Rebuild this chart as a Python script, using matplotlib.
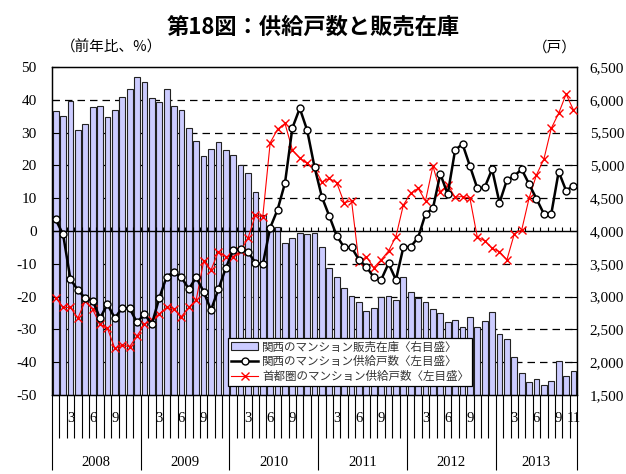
import matplotlib

matplotlib.use("Agg")
import matplotlib.pyplot as plt
import numpy as np

plt.rcParams["font.family"] = ["Noto Sans CJK JP", "DejaVu Sans"]

# ---- data (2008/01 - 2013/11, monthly) ----
years = ["2008", "2009", "2010", "2011", "2012", "2013"]
n_months = 71

# 関西のマンション販売在庫 (戸, right axis)
inventory = [5830, 5760, 5980, 5540, 5630, 5890, 5900, 5740, 5840, 6040, 6170, 6350,
             6270, 6020, 5970, 6170, 5900, 5840, 5570, 5370, 5150, 5250, 5350, 5240,
             5160, 5000, 4880, 4590, 4240, 4065, 4055, 3810, 3890, 3965, 3955, 3975,
             3750, 3440, 3305, 3125, 3010, 2925, 2780, 2820, 2990, 3015, 2950, 3305,
             3075, 2975, 2925, 2810, 2745, 2605, 2650, 2540, 2695, 2540, 2635, 2760,
             2430, 2360, 2085, 1840, 1705, 1745, 1655, 1720, 2025, 1790, 1865]

# 関西のマンション供給戸数 (前年比 %, left axis)
kansai = [3.5, -1.0, -14.7, -18.0, -20.5, -21.2, -26.6, -22.3, -26.6, -23.4, -23.6, -27.9,
          -25.3, -28.4, -20.5, -13.9, -12.5, -14.1, -17.7, -14.1, -18.5, -24.1, -17.8, -11.3,
          -5.8, -5.6, -6.3, -9.7, -10.2, 1.0, 6.5, 14.6, 31.4, 37.4, 30.7, 19.4,
          10.3, 4.5, -1.5, -5.0, -5.0, -8.8, -10.9, -14.1, -14.9, -9.9, -14.9, -5.0,
          -4.8, -2.0, 5.2, 6.9, 17.4, 11.2, 24.7, 26.5, 19.8, 13.0, 13.3, 18.8,
          8.6, 15.5, 16.8, 18.8, 14.3, 9.8, 5.2, 5.2, 18.1, 12.3, 13.8]

# 首都圏のマンション供給戸数 (前年比 %, left axis)
shutoken = [-20.3, -23.3, -23.3, -26.6, -21.3, -23.9, -28.5, -29.7, -35.8, -34.8, -35.3, -32.0,
            -28.5, -27.1, -25.3, -23.3, -23.9, -26.1, -23.3, -21.0, -9.3, -11.9, -6.3, -7.8,
            -7.8, -6.1, -2.2, 4.8, 4.4, 26.9, 31.0, 32.8, 24.7, 22.2, 20.6, 19.1,
            15.0, 16.0, 14.7, 8.6, 9.2, -9.6, -7.8, -11.2, -8.8, -6.1, -1.7, 7.9,
            11.5, 13.0, 9.2, 19.8, 12.0, 14.0, 10.3, 10.5, 10.0, -1.9, -3.0, -5.3,
            -6.3, -8.8, -0.9, 0.3, 10.0, 17.1, 21.9, 31.3, 35.9, 41.7, 36.9]

left_ticks = list(range(-50, 51, 10))
right_ticks = list(range(1500, 6501, 500))

labels = ["関西のマンション販売在庫〈右目盛〉",
          "関西のマンション供給戸数〈左目盛〉",
          "首都圏のマンション供給戸数〈左目盛〉"]

SERIF = "Liberation Serif"
x = np.arange(n_months)

fig = plt.figure(figsize=(6.26, 4.74), dpi=100)
ax = fig.add_axes([0.083, 0.1667, 0.839, 0.692])
ax2 = ax.twinx()
ax.set_zorder(ax2.get_zorder() + 1)
ax.patch.set_visible(False)

# bars (right axis), dashed grid sits behind them
for v in right_ticks[1:-1]:
    if v != 4000:
        ax2.axhline(v, color="black", lw=0.9, ls=(0, (6, 4)), zorder=0.5)
bars = ax2.bar(x, inventory, width=0.78, color="#ccccff", edgecolor="#222222",
               lw=0.8, zorder=2)
ax2.set_ylim(1500, 6500)
ax2.set_yticks(right_ticks)
ax2.set_yticklabels([f"{v:,}" for v in right_ticks], fontfamily=SERIF, fontsize=11)
ax2.tick_params(axis="y", direction="in", length=5, width=0.8, pad=9)

# lines (left axis)
ax.axhline(0, color="black", lw=1.0, zorder=3)
bounds = np.arange(n_months + 1) - 0.5
ax.vlines(bounds, 0, 1.3, color="black", lw=0.8, zorder=3)
l_red, = ax.plot(x, shutoken, color="red", lw=0.8, marker="x", ms=5.5, mew=1.0, zorder=4)
l_blk, = ax.plot(x, kansai, color="black", lw=1.8, marker="o", ms=5,
                 mfc="white", mec="black", mew=1.0, zorder=5)
ax.set_ylim(-50, 50)
ax.set_yticks(left_ticks)
ax.set_yticklabels([str(v) for v in left_ticks], fontfamily=SERIF, fontsize=11)
ax.tick_params(axis="y", direction="in", length=5, width=0.8, pad=11)

ax.set_xlim(-0.5, n_months - 0.5)
year_bounds = [-0.5, 11.5, 23.5, 35.5, 47.5, 59.5, n_months - 0.5]
ax.set_xticks(year_bounds)
ax.set_xticks(bounds, minor=True)
ax.set_xticklabels([])
ax.tick_params(axis="x", which="major", direction="out", length=54, width=0.8)
ax.tick_params(axis="x", which="minor", direction="out", length=31, width=0.8)

tr = ax.get_xaxis_transform()
for i in range(n_months):
    m = i % 12 + 1
    if m in (3, 6, 9) or i == n_months - 1:
        ax.text(i, -0.072, str(m), transform=tr, ha="center", va="center",
                fontfamily=SERIF, fontsize=10.5)
for k, yr in enumerate(years):
    c = (year_bounds[k] + year_bounds[k + 1]) / 2
    ax.text(c, -0.205, yr, transform=tr, ha="center", va="center",
            fontfamily=SERIF, fontsize=10.5)

for a in (ax, ax2):
    for s in a.spines.values():
        s.set_linewidth(0.9)

# texts
fig.text(0.5, 0.942, "第18図：供給戸数と販売在庫", ha="center", va="center",
         fontsize=16, fontweight="bold")
fig.text(0.098, 0.9, "（前年比、%）", ha="left", va="center", fontsize=10.5)
fig.text(0.922, 0.9, "（戸）", ha="right", va="center", fontsize=10.5)

leg = ax.legend([bars, l_blk, l_red], labels, loc="lower left",
                bbox_to_anchor=(0.335, 0.028), fontsize=8.3, frameon=True,
                fancybox=False, framealpha=1, edgecolor="black",
                borderpad=0.25, labelspacing=0.15, handlelength=2.4,
                handletextpad=0.3, borderaxespad=0)
leg.get_frame().set_linewidth(0.9)
for t in leg.get_texts():
    t.set_color("#333333")

fig.savefig("out.png", dpi=100, facecolor="white")
